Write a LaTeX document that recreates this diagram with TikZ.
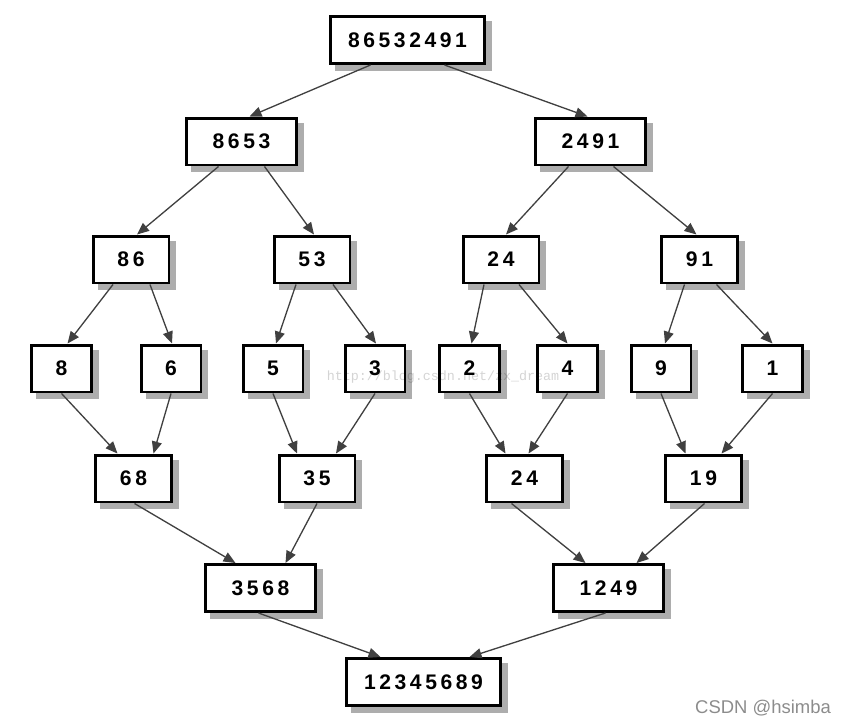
\documentclass[tikz,border=0pt]{standalone}
\usepackage{fontspec}
\setmainfont{Liberation Sans}
\newfontfamily\boxfont[LetterSpace=17]{Liberation Sans}
\newfontfamily\wmfont{Liberation Mono}
\usetikzlibrary{arrows.meta,calc}
\begin{document}
\begin{tikzpicture}[x=0.02cm,y=-0.02cm,
  box/.style={draw=black,line width=1.7pt,fill=white,minimum height=0.94cm,inner sep=0pt,
    font=\boxfont\bfseries\fontsize{12}{14}\selectfont,
    preaction={draw=black!32,fill=black!32,line width=1.7pt,
      transform canvas={shift={(0.12cm,-0.12cm)}}}},
  w8/.style={box,minimum width=3.1cm},
  w4/.style={box,minimum width=2.2cm},
  w2/.style={box,minimum width=1.52cm},
  w1/.style={box,minimum width=1.2cm},
  conn/.style={draw=black!75,line width=0.75pt,-{Triangle[length=0.24cm,width=0.2cm]}}]
\useasboundingbox (0,0) rectangle (845,724);
\node[text=black!45,font=\fontsize{10.5}{12}\selectfont] (csdn) at (763,708) {CSDN @hsimba};
% nodes
\node[w8] (a) at (407.5,40) {86532491};
\node[w4] (b1) at (241.5,141.5) {8653};
\node[w4] (b2) at (590.5,141.5) {2491};
\node[w2] (c1) at (131,259.5) {86};
\node[w2] (c2) at (312,259.5) {53};
\node[w2] (c3) at (501,259.5) {24};
\node[w2] (c4) at (699.5,259.5) {91};
\node[w1] (d1) at (61.5,368.5) {8};
\node[w1] (d2) at (171,368.5) {6};
\node[w1] (d3) at (273,368.5) {5};
\node[w1] (d4) at (375,368.5) {3};
\node[w1] (d5) at (469.5,368.5) {2};
\node[w1] (d6) at (567.5,368.5) {4};
\node[w1] (d7) at (661,368.5) {9};
\node[w1] (d8) at (772.5,368.5) {1};
\node[w2] (e1) at (133.5,478.5) {68};
\node[w2] (e2) at (317,478.5) {35};
\node[w2] (e3) at (524.5,478.5) {24};
\node[w2] (e4) at (703.5,478.5) {19};
\node[w4] (f1) at (260.5,588) {3568};
\node[w4] (f2) at (608.5,588) {1249};
\node[w8] (g) at (423.5,682) {12345689};
% connectors
\draw[conn] ($(a.south)+(-37,0)$) -- ($(b1.north)+(8,0)$);
\draw[conn] ($(a.south)+(37,0)$) -- ($(b2.north)+(-3,0)$);
\draw[conn] ($(b1.south)+(-23,0)$) -- ($(c1.north)+(6,0)$);
\draw[conn] ($(b1.south)+(23,0)$) -- ($(c2.north)+(2,0)$);
\draw[conn] ($(b2.south)+(-22,0)$) -- ($(c3.north)+(5,0)$);
\draw[conn] ($(b2.south)+(23,0)$) -- ($(c4.north)+(-3,0)$);
\draw[conn] ($(c1.south)+(-18,0)$) -- ($(d1.north)+(6,0)$);
\draw[conn] ($(c1.south)+(19,0)$) -- ($(d2.north)+(1,0)$);
\draw[conn] ($(c2.south)+(-16,0)$) -- ($(d3.north)+(3,0)$);
\draw[conn] ($(c2.south)+(21,0)$) -- ($(d4.north)+(1,0)$);
\draw[conn] ($(c3.south)+(-17,0)$) -- ($(d5.north)+(2,0)$);
\draw[conn] ($(c3.south)+(18,0)$) -- ($(d6.north)+(0,0)$);
\draw[conn] ($(c4.south)+(-15,0)$) -- ($(d7.north)+(4,0)$);
\draw[conn] ($(c4.south)+(17,0)$) -- ($(d8.north)+(0,0)$);
\draw[conn] (d1.south) -- ($(e1.north)+(-16,0)$);
\draw[conn] (d2.south) -- ($(e1.north)+(20,0)$);
\draw[conn] (d3.south) -- ($(e2.north)+(-20,0)$);
\draw[conn] (d4.south) -- ($(e2.north)+(19,0)$);
\draw[conn] (d5.south) -- ($(e3.north)+(-19,0)$);
\draw[conn] (d6.south) -- ($(e3.north)+(4,0)$);
\draw[conn] (d7.south) -- ($(e4.north)+(-18,0)$);
\draw[conn] (d8.south) -- ($(e4.north)+(18,0)$);
\draw[conn] ($(e1.south)+(1,0)$) -- ($(f1.north)+(-25,0)$);
\draw[conn] (e2.south) -- ($(f1.north)+(25,0)$);
\draw[conn] ($(e3.south)+(-13,0)$) -- ($(f2.north)+(-23,0)$);
\draw[conn] ($(e4.south)+(1,0)$) -- ($(f2.north)+(28,0)$);
\draw[conn] ($(f1.south)+(-2,0)$) -- ($(g.north)+(-43,0)$);
\draw[conn] ($(f2.south)+(-3,0)$) -- ($(g.north)+(46,0)$);
% watermark (on top, faint)
\node[text=black,text opacity=0.17,font=\wmfont\fontsize{7.6}{9}\selectfont] (wm) at (443,377) {http://blog.csdn.net/zx\_dream};
\end{tikzpicture}
\end{document}
